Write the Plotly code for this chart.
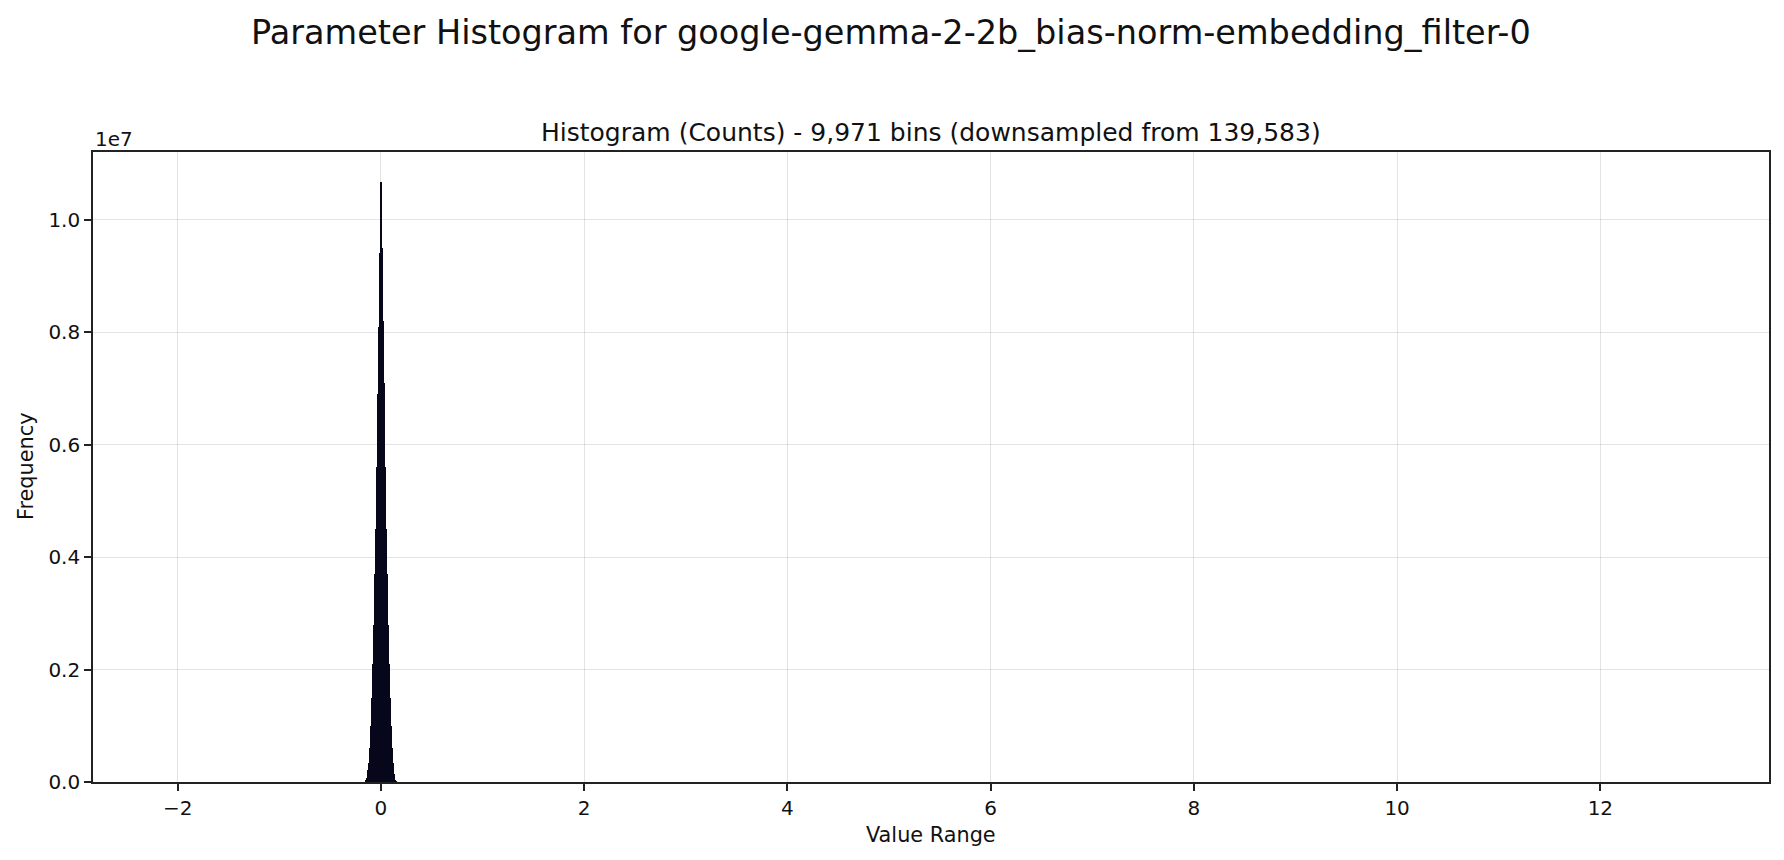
import plotly.graph_objects as go

# histogram data (only the visible peak around zero)
bin_centers = [
    -0.150, -0.145, -0.140, -0.135, -0.130, -0.125, -0.120, -0.115, -0.110, -0.105,
    -0.100, -0.095, -0.090, -0.085, -0.080, -0.075, -0.070, -0.065, -0.060, -0.055,
    -0.050, -0.045, -0.040, -0.035, -0.030, -0.025, -0.020, -0.015, -0.010, -0.005,
    0.000,
    0.005, 0.010, 0.015, 0.020, 0.025, 0.030, 0.035, 0.040, 0.045, 0.050,
    0.055, 0.060, 0.065, 0.070, 0.075, 0.080, 0.085, 0.090, 0.095, 0.100,
    0.105, 0.110, 0.115, 0.120, 0.125, 0.130, 0.135, 0.140, 0.145, 0.150,
]
counts = [
    10000, 20000, 40000, 80000, 140000, 220000, 330000, 450000, 600000, 800000,
    1000000, 1200000, 1500000, 1800000, 2100000, 2400000, 2800000, 3200000, 3700000, 4100000,
    4500000, 5000000, 5600000, 6300000, 6900000, 7500000, 8100000, 8600000, 9400000, 10100000,
    10670000,
    10260000, 9500000, 8800000, 8200000, 7600000, 7100000, 6300000, 5600000, 5000000, 4500000,
    4100000, 3700000, 3200000, 2800000, 2400000, 2100000, 1800000, 1500000, 1200000, 1000000,
    800000, 600000, 450000, 330000, 220000, 140000, 80000, 40000, 20000, 10000,
]
bin_width = 0.005
value_min = -2.084
value_max = 12.91
n_bins = 9971
n_bins_orig = 139583

x_ticks = [-2, 0, 2, 4, 6, 8, 10, 12]
x_ticktext = ["\u22122", "0", "2", "4", "6", "8", "10", "12"]
y_ticks = [0, 2e6, 4e6, 6e6, 8e6, 10e6]
y_ticktext = ["0.0", "0.2", "0.4", "0.6", "0.8", "1.0"]

W, H = 1784, 860
L, R, T, B = 85, 23, 144, 86
FONT = "DejaVu Sans"

span = value_max - value_min
x_range = [value_min - 0.05 * span, value_max + 0.05 * span]
y_range = [0, max(counts) * 1.05]
# suptitle sits near the figure centre, not the axes centre
fig_center = (883 - L) / (W - L - R)

fig = go.Figure()
fig.add_trace(go.Bar(x=bin_centers, y=counts, width=bin_width,
                     marker=dict(color="#07071c", line=dict(width=0))))

axis_common = dict(showline=True, linecolor="#222222", linewidth=1.6, mirror=True,
                   ticks="outside", ticklen=7, tickwidth=1.6, tickcolor="#222222",
                   showgrid=True, gridcolor="rgba(176,176,176,0.35)", gridwidth=1.2,
                   zeroline=False, layer="above traces",
                   tickfont=dict(family=FONT, size=20, color="#111111"))
fig.update_xaxes(range=x_range, tickvals=x_ticks, ticktext=x_ticktext, **axis_common)
fig.update_yaxes(range=y_range, tickvals=y_ticks, ticktext=y_ticktext, **axis_common)

annotations = [
    dict(text="Parameter Histogram for google-gemma-2-2b_bias-norm-embedding_filter-0",
         x=fig_center, y=1, yshift=120, font=dict(size=33.5, family=FONT, color="#111111")),
    dict(text=f"Histogram (Counts) - {n_bins:,} bins (downsampled from {n_bins_orig:,})",
         x=0.5, y=1, yshift=20, font=dict(size=25, family=FONT, color="#111111")),
    dict(text="1e7", x=0, y=1, xanchor="left", yshift=13,
         font=dict(size=20, family=FONT, color="#111111")),
    dict(text="Value Range", x=0.5, y=0, yshift=-53,
         font=dict(size=20.8, family=FONT, color="#111111")),
    dict(text="Frequency", x=0, y=0.5, xshift=-67, textangle=-90,
         font=dict(size=20.8, family=FONT, color="#111111")),
]
for a in annotations:
    a.setdefault("xanchor", "center")
    a.update(xref="paper", yref="paper", yanchor="middle", showarrow=False)

fig.update_layout(width=W, height=H, margin=dict(l=L, r=R, t=T, b=B),
                  paper_bgcolor="white", plot_bgcolor="white",
                  bargap=0, showlegend=False, annotations=annotations,
                  font=dict(family=FONT))
fig.write_html("out.html")
